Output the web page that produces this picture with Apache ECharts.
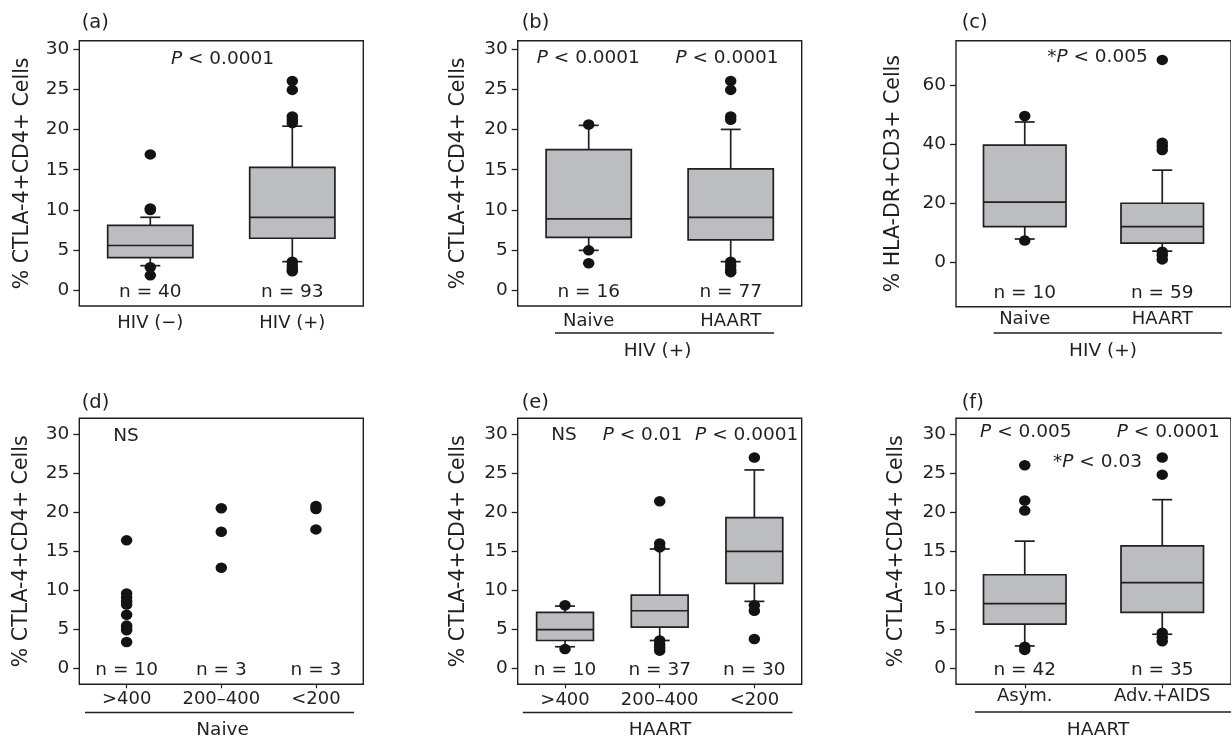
<!DOCTYPE html>
<html><head><meta charset="utf-8">
<script src="https://cdn.jsdelivr.net/npm/echarts@6/dist/echarts.min.js"></script>
<style>html,body{margin:0;padding:0;background:#fff}#c{width:1231px;height:740px}</style>
</head><body><div id="c"></div>
<script>
// ---------------- data ----------------
// box stats: [lower whisker, Q1, median, Q3, upper whisker]
const catsA = ['HIV (\u2212)', 'HIV (+)'];
const nA = ['n = 40', 'n = 93'];
const boxA = [[3.1, 4.1, 5.6, 8.1, 9.1], [3.6, 6.5, 9.1, 15.3, 20.4]];
const outA = [[0,16.9],[0,10.2],[0,10.0],[0,2.9],[0,1.9],[1,26.0],[1,24.9],[1,21.6],[1,21.2],[1,20.8],[1,3.6],[1,3.1],[1,2.7],[1,2.4]];

const catsB = ['Naive', 'HAART'];
const nB = ['n = 16', 'n = 77'];
const boxB = [[5.0, 6.6, 8.9, 17.5, 20.5], [3.6, 6.3, 9.1, 15.1, 20.0]];
const outB = [[0,20.6],[0,5.0],[0,3.4],[1,26.0],[1,24.9],[1,21.6],[1,21.2],[1,3.6],[1,3.1],[1,2.6],[1,2.3]];

const catsC = ['Naive', 'HAART'];
const nC = ['n = 10', 'n = 59'];
const boxC = [[7.9, 12.1, 20.4, 39.7, 47.5], [3.8, 6.5, 12.1, 20.0, 31.2]];
const outC = [[0,49.5],[0,7.4],[1,68.5],[1,40.5],[1,39.3],[1,38.0],[1,3.6],[1,2.4],[1,1.0]];

const catsD = ['>400', '200\u2013400', '<200'];
const nD = ['n = 10', 'n = 3', 'n = 3'];
const ptsD = [[0,16.4],[0,9.6],[0,9.1],[0,8.6],[0,8.2],[0,6.9],[0,5.5],[0,5.2],[0,4.9],[0,3.4],[1,20.5],[1,17.5],[1,12.9],[2,20.8],[2,20.4],[2,17.8]];

const catsE = ['>400', '200\u2013400', '<200'];
const nE = ['n = 10', 'n = 37', 'n = 30'];
const boxE = [[2.8, 3.6, 5.0, 7.2, 8.0], [3.6, 5.3, 7.4, 9.4, 15.3], [8.6, 10.9, 15.0, 19.3, 25.4]];
const outE = [[0,8.1],[0,2.5],[1,21.4],[1,16.0],[1,15.5],[1,3.6],[1,3.1],[1,2.7],[1,2.3],[2,27.0],[2,8.1],[2,7.4],[2,3.8]];

const catsF = ['Asym.', 'Adv.+AIDS'];
const nF = ['n = 42', 'n = 35'];
const boxF = [[2.9, 5.7, 8.3, 12.0, 16.3], [4.4, 7.2, 11.0, 15.7, 21.6]];
const outF = [[0,26.0],[0,21.5],[0,20.2],[0,2.8],[0,2.4],[1,27.0],[1,24.8],[1,4.6],[1,4.0],[1,3.5]];

const ticksCTLA = [0, 5, 10, 15, 20, 25, 30];
const ticksHLA = [0, 20, 40, 60];
const nameCTLA = '% CTLA-4+CD4+ Cells';
const nameHLA = '% HLA-DR+CD3+ Cells';

// ---------------- layout / style ----------------
const FONT = 'DejaVu Sans';
const INK = '#231f20';
const FILL = '#bcbdc0';
const DOT = '#141213';

const panels = [
  {cats: catsA, n: nA, box: boxA, pts: outA, ticks: ticksCTLA, name: nameCTLA, left: 79.3, top: 40.7, height: 265.3, ymin: -1.9, ymax: 31, nameGap: 46, lm: 8, xt: false},
  {cats: catsB, n: nB, box: boxB, pts: outB, ticks: ticksCTLA, name: nameCTLA, left: 517.7, top: 40.7, height: 265.3, ymin: -1.9, ymax: 31, nameGap: 49, lm: 6, xt: false},
  {cats: catsC, n: nC, box: boxC, pts: outC, ticks: ticksHLA, name: nameHLA, left: 956, top: 40.7, height: 266, ymin: -15, ymax: 75, nameGap: 52, lm: 4, xt: false},
  {cats: catsD, n: nD, box: null, pts: ptsD, ticks: ticksCTLA, name: nameCTLA, left: 79.3, top: 418.3, height: 266, ymin: -2, ymax: 32, nameGap: 47, lm: 6, xt: true},
  {cats: catsE, n: nE, box: boxE, pts: outE, ticks: ticksCTLA, name: nameCTLA, left: 517.7, top: 418.3, height: 266, ymin: -2, ymax: 32, nameGap: 49, lm: 7, xt: true},
  {cats: catsF, n: nF, box: boxF, pts: outF, ticks: ticksCTLA, name: nameCTLA, left: 956, top: 418.3, height: 266, ymin: -2, ymax: 32, nameGap: 49, lm: 3, xt: true}
];

function boxRender(params, api) {
  const x = api.value(0);
  const v = [1, 2, 3, 4, 5].map(d => api.value(d));
  const bw = api.size([1, 0])[0] * 0.6;
  const cap = 10;
  const p = v.map(val => api.coord([x, val]));
  const cx = p[2][0];
  const ls = {stroke: INK, lineWidth: 1.7, fill: null};
  return {type: 'group', children: [
    {type: 'line', shape: {x1: cx, y1: p[3][1], x2: cx, y2: p[4][1]}, style: ls},
    {type: 'line', shape: {x1: cx - cap, y1: p[4][1], x2: cx + cap, y2: p[4][1]}, style: ls},
    {type: 'line', shape: {x1: cx, y1: p[1][1], x2: cx, y2: p[0][1]}, style: ls},
    {type: 'line', shape: {x1: cx - cap, y1: p[0][1], x2: cx + cap, y2: p[0][1]}, style: ls},
    {type: 'rect', shape: {x: cx - bw / 2, y: p[3][1], width: bw, height: p[1][1] - p[3][1]}, style: {fill: FILL, stroke: INK, lineWidth: 1.7}},
    {type: 'line', shape: {x1: cx - bw / 2, y1: p[2][1], x2: cx + bw / 2, y2: p[2][1]}, style: ls}
  ]};
}

const grid = [], xAxis = [], yAxis = [], series = [];
panels.forEach((P, i) => {
  grid.push({left: P.left, top: P.top, width: 284, height: P.height, show: true, borderColor: INK, borderWidth: 1.4, backgroundColor: 'transparent', containLabel: false});
  const idx = P.cats.map((_, k) => k);
  xAxis.push({
    gridIndex: i, type: 'value', min: -0.5, max: P.cats.length - 0.5,
    axisLine: {show: false, onZero: false}, splitLine: {show: false},
    axisTick: {show: P.xt, customValues: idx, length: 4, lineStyle: {color: INK, width: 1.2}},
    axisLabel: {customValues: idx, formatter: v => P.cats[Math.round(v)], fontSize: 18, fontFamily: FONT, color: INK, margin: P.lm}
  });
  yAxis.push({
    gridIndex: i, type: 'value', min: P.ymin, max: P.ymax,
    name: P.name, nameLocation: 'middle', nameGap: P.nameGap,
    nameTextStyle: {fontSize: 20.5, fontFamily: FONT, color: INK},
    axisLine: {show: false, onZero: false}, splitLine: {show: false},
    axisTick: {show: true, customValues: P.ticks, length: 6, lineStyle: {color: INK, width: 1.3}},
    axisLabel: {customValues: P.ticks, fontSize: 18.5, fontFamily: FONT, color: INK, margin: 10}
  });
  if (P.box) {
    series.push({type: 'custom', xAxisIndex: i, yAxisIndex: i, renderItem: boxRender,
      data: P.box.map((b, k) => [k].concat(b)), encode: {x: 0, y: [1, 2, 3, 4, 5]}, z: 2, silent: true});
  }
  series.push({type: 'scatter', xAxisIndex: i, yAxisIndex: i, data: P.pts, symbol: 'circle', symbolSize: [11.5, 10.5],
    itemStyle: {color: DOT, opacity: 1}, z: 3, silent: true});
  series.push({type: 'custom', xAxisIndex: i, yAxisIndex: i, silent: true, z: 4,
    data: P.n.map((_, k) => [k]), encode: {x: 0},
    renderItem: (params, api) => {
      const cs = params.coordSys;
      const pt = api.coord([api.value(0), P.ymin]);
      return {type: 'text', x: pt[0], y: cs.y + cs.height - 14,
        style: {text: P.n[params.dataIndex], fontSize: 18.5, fontFamily: FONT, fill: INK, align: 'center', verticalAlign: 'middle'}};
    }});
});

// annotations (layout)
const rich = {i: {fontStyle: 'italic', fontSize: 18.5, fontFamily: FONT, fill: INK}};
function txt(x, y, text, align, size) {
  return {type: 'text', x: x, y: y, z: 10, style: {text: text, rich: rich, fontSize: size || 18.5, fontFamily: FONT, fill: INK, align: align || 'center', verticalAlign: 'middle'}};
}
function hline(x1, x2, y) {
  return {type: 'line', z: 10, shape: {x1: x1, y1: y, x2: x2, y2: y}, style: {stroke: INK, lineWidth: 1.4}};
}
const graphic = [
  txt(81.7, 22.5, '(a)', 'left', 19.5), txt(521.7, 22.5, '(b)', 'left', 19.5), txt(961.7, 22.5, '(c)', 'left', 19.5),
  txt(81.7, 402.5, '(d)', 'left', 19.5), txt(521.7, 402.5, '(e)', 'left', 19.5), txt(961.7, 402.5, '(f)', 'left', 19.5),
  txt(222.5, 59, '{i|P} < 0.0001'),
  txt(588.3, 58, '{i|P} < 0.0001'), txt(727, 58, '{i|P} < 0.0001'),
  txt(1097.5, 57, '*{i|P} < 0.005'),
  txt(126, 436, 'NS'),
  txt(564, 435.5, 'NS'), txt(642.5, 435.5, '{i|P} < 0.01'), txt(746.7, 435.5, '{i|P} < 0.0001'),
  txt(1025.8, 432.5, '{i|P} < 0.005'), txt(1168.3, 432.5, '{i|P} < 0.0001'), txt(1097.5, 462.5, '*{i|P} < 0.03'),
  hline(555, 774, 333), txt(657.6, 351, 'HIV (+)'),
  hline(993.6, 1222, 333), txt(1103, 351, 'HIV (+)'),
  hline(85, 354, 712.5), txt(222.6, 730, 'Naive'),
  hline(522.8, 792.5, 712.5), txt(660, 730, 'HAART'),
  hline(975, 1231, 712), txt(1098, 730, 'HAART')
];

const chart = echarts.init(document.getElementById('c'), null, {renderer: 'canvas'});
chart.setOption({
  animation: false,
  backgroundColor: '#fff',
  grid: grid, xAxis: xAxis, yAxis: yAxis, series: series,
  graphic: {elements: graphic}
});
</script>
</body></html>
